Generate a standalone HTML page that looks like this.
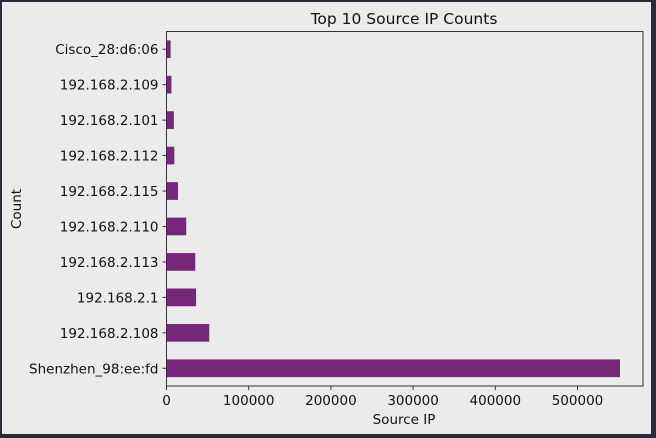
<!DOCTYPE html>
<html><head><meta charset="utf-8"><style>
html,body{margin:0;padding:0;background:#2b2a3a;}
svg{display:block;font-family:"DejaVu Sans","Liberation Sans",sans-serif;}
</style></head><body>
<svg id="chart" width="656" height="438">
<rect x="2" y="2" width="649" height="432" fill="#ebebeb"/>
<text x="404" y="24" font-size="15.5" text-anchor="middle" fill="#111">Top 10 Source IP Counts</text>
<g id="bars"></g>
<g id="axes"></g>
<text x="404" y="424" font-size="13.5" text-anchor="middle" fill="#111">Source IP</text>
<text transform="translate(21,209) rotate(-90)" font-size="13.5" text-anchor="middle" fill="#111">Count</text>
</svg>
<script>
const categories=["Shenzhen_98:ee:fd","192.168.2.108","192.168.2.1","192.168.2.113","192.168.2.110","192.168.2.115","192.168.2.112","192.168.2.101","192.168.2.109","Cisco_28:d6:06"];
const counts=[551700,52000,36000,35000,24000,14000,9500,9000,6000,5000];
const xTicks=[0,100000,200000,300000,400000,500000];
const L=166.5,R=643,T=31.5,B=386;
const xs=v=>L+v*(577.5-166.5)/500000;
const step=(B-T)/categories.length;
const ys=i=>B-step*(i+0.5);
const NS="http://www.w3.org/2000/svg";
const bars=document.getElementById('bars'),axes=document.getElementById('axes');
function mk(tag,attrs,parent){const e=document.createElementNS(NS,tag);for(const k in attrs)e.setAttribute(k,attrs[k]);parent.appendChild(e);return e;}
categories.forEach((c,i)=>{
  const r=mk('rect',{x:xs(0),y:ys(i)-step/4,width:xs(counts[i])-xs(0),height:step/2,fill:'#77277a'},bars);
  
  
  const t=mk('line',{x1:L-4,x2:L,y1:ys(i),y2:ys(i),stroke:'#333','stroke-width':1},axes);
  
  
  const lb=mk('text',{x:L-8,y:ys(i)+5,'font-size':13.5,'text-anchor':'end',fill:'#111'},axes);
  lb.textContent=c;
  
  
});
xTicks.forEach(v=>{
  const t=mk('line',{x1:xs(v),x2:xs(v),y1:B,y2:B+4,stroke:'#333','stroke-width':1},axes);
  
  
  const lb=mk('text',{x:xs(v),y:B+19,'font-size':13.5,'text-anchor':'middle',fill:'#111'},axes);
  lb.textContent=v;
  
  
});
const fr=mk('rect',{x:L,y:T,width:R-L,height:B-T,fill:'none',stroke:'#333','stroke-width':1},axes);


</script>
</body></html>
